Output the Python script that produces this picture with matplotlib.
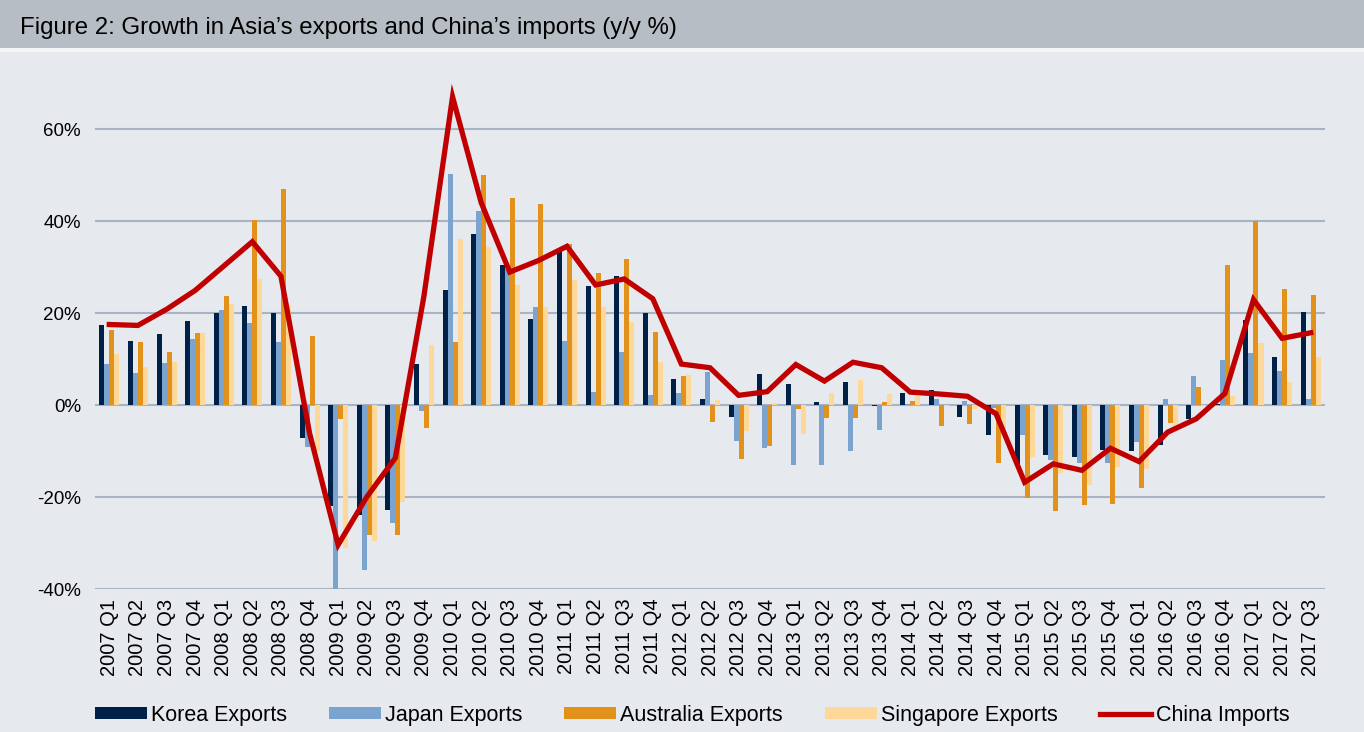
import matplotlib
matplotlib.use("Agg")
import matplotlib.pyplot as plt
import matplotlib.patches as mpatches
import numpy as np

plt.rcParams['font.family'] = ['Liberation Sans', 'DejaVu Sans']

# quarters 2007 Q1 .. 2017 Q3
quarters = [f"{y} Q{q}" for y in range(2007, 2018) for q in range(1, 5)][:43]

korea = [17.3, 14.0, 15.5, 18.3, 20.0, 21.6, 19.9, -7.2, -21.9, -23.9, -22.8,
         9.0, 25.0, 37.2, 30.4, 18.7, 33.5, 25.8, 28.0, 19.9, 5.6, 1.3, -2.5,
         6.8, 4.5, 0.6, 4.9, -0.2, 2.6, 3.3, -2.6, -6.5, -13.0, -10.8, -11.4,
         -9.7, -9.9, -8.7, -3.1, 0.3, 18.5, 10.5, 20.3]
japan = [9.0, 7.0, 9.1, 14.3, 20.7, 17.9, 13.8, -9.2, -40.2, -35.8, -25.7,
         -1.4, 50.2, 42.1, 29.5, 21.3, 13.9, 2.8, 11.5, 2.2, 2.7, 7.2, -7.9,
         -9.4, -13.1, -13.0, -9.9, -5.5, 0.2, 1.3, 0.9, -0.6, -6.6, -12.0, -12.7,
         -12.7, -8.1, 1.2, 6.3, 9.7, 11.4, 7.4, 1.3]
australia = [16.3, 13.7, 11.6, 15.7, 23.6, 40.3, 46.9, 15.1, -3.0, -28.2, -28.2,
             -4.9, 13.7, 50.1, 44.9, 43.6, 34.9, 28.8, 31.8, 15.9, 6.2, -3.7, -11.8,
             -9.0, -0.9, -2.9, -2.9, 0.7, 0.8, -4.6, -4.2, -12.7, -20.3, -23.1, -21.8,
             -21.6, -18.0, -4.0, 4.0, 30.4, 40.0, 25.3, 24.0]
singapore = [11.1, 8.3, 9.4, 15.7, 22.0, 27.3, 21.8, -10.0, -31.1, -29.5, -21.0,
             13.1, 36.1, 34.4, 26.1, 21.2, 27.1, 21.2, 18.1, 9.4, 6.5, 1.1, -5.7,
             0.4, -6.2, 2.6, 5.5, 2.5, 1.9, -0.3, -0.9, -5.4, -11.2, -14.7, -17.3,
             -13.4, -13.9, -4.6, -0.2, 2.0, 13.5, 5.1, 10.4]
china = [17.5, 17.3, 20.8, 24.9, 30.2, 35.5, 28.0, -6.1, -30.4, -20.0, -11.5,
         23.7, 67.0, 44.0, 28.9, 31.4, 34.5, 26.1, 27.4, 23.1, 8.9, 8.1, 2.1,
         2.9, 8.8, 5.2, 9.3, 8.1, 2.8, 2.4, 1.9, -1.9, -16.8, -12.8, -14.2,
         -9.4, -12.3, -5.9, -3.0, 2.5, 22.9, 14.5, 15.7]

bar_series = [
    ("Korea Exports", korea, "#002147"),
    ("Japan Exports", japan, "#7aa3cf"),
    ("Australia Exports", australia, "#e2911a"),
    ("Singapore Exports", singapore, "#fdd898"),
]

bg = "#e6e9ee"
fig = plt.figure(figsize=(13.64, 7.32), dpi=100, facecolor=bg)

# title band
fig.patches.append(mpatches.Rectangle((0, 1 - 48 / 732), 1, 48 / 732, transform=fig.transFigure,
                                      facecolor="#b7bdc4", edgecolor="none", zorder=0))
fig.patches.append(mpatches.Rectangle((0, 1 - 52 / 732), 1, 4 / 732, transform=fig.transFigure,
                                      facecolor="#f4f5f7", edgecolor="none", zorder=0))
fig.text(20 / 1364, 1 - 28 / 732, "Figure 2: Growth in Asia\u2019s exports and China\u2019s imports (y/y %)",
         fontsize=17.3, va="center", ha="left", color="black")

ax = fig.add_axes([95 / 1364, (732 - 589) / 732, (1325 - 95) / 1364, (589 - 83) / 732])
ax.set_facecolor(bg)

x = np.arange(len(quarters))
w = 0.175
handles = []
for i, (name, vals, col) in enumerate(bar_series):
    b = ax.bar(x + (i - 1.5) * w, vals, width=w, color=col, label=name, zorder=2)
    handles.append(b)
line, = ax.plot(x, china, color="#c00000", lw=3.8, label="China Imports", zorder=3,
                solid_joinstyle="miter")
handles.append(line)

ax.set_xlim(-0.5, len(quarters) - 0.5)
ax.set_ylim(-40, 70)
ax.set_yticks([-40, -20, 0, 20, 40, 60])
ax.set_yticklabels([f"{v}%" for v in [-40, -20, 0, 20, 40, 60]], fontsize=13.5)
ax.set_xticks(x)
ax.set_xticklabels(quarters, rotation=90, fontsize=14.5)
ax.tick_params(length=0, pad=10)
ax.tick_params(axis="x", pad=7)
ax.grid(axis="y", color="#a9b4c2", lw=1.5, zorder=1)
for s in ax.spines.values():
    s.set_visible(False)

fig.legend(handles=handles, labels=[h.get_label() for h in handles],
           loc="center left", bbox_to_anchor=(95 / 1364, 1 - 715 / 732), ncol=5, frameon=False,
           fontsize=15.5, handlelength=2.4, handleheight=0.5, handletextpad=0.2,
           columnspacing=1.95, borderpad=0, borderaxespad=0)

fig.savefig("out.png", dpi=100, facecolor=bg)
